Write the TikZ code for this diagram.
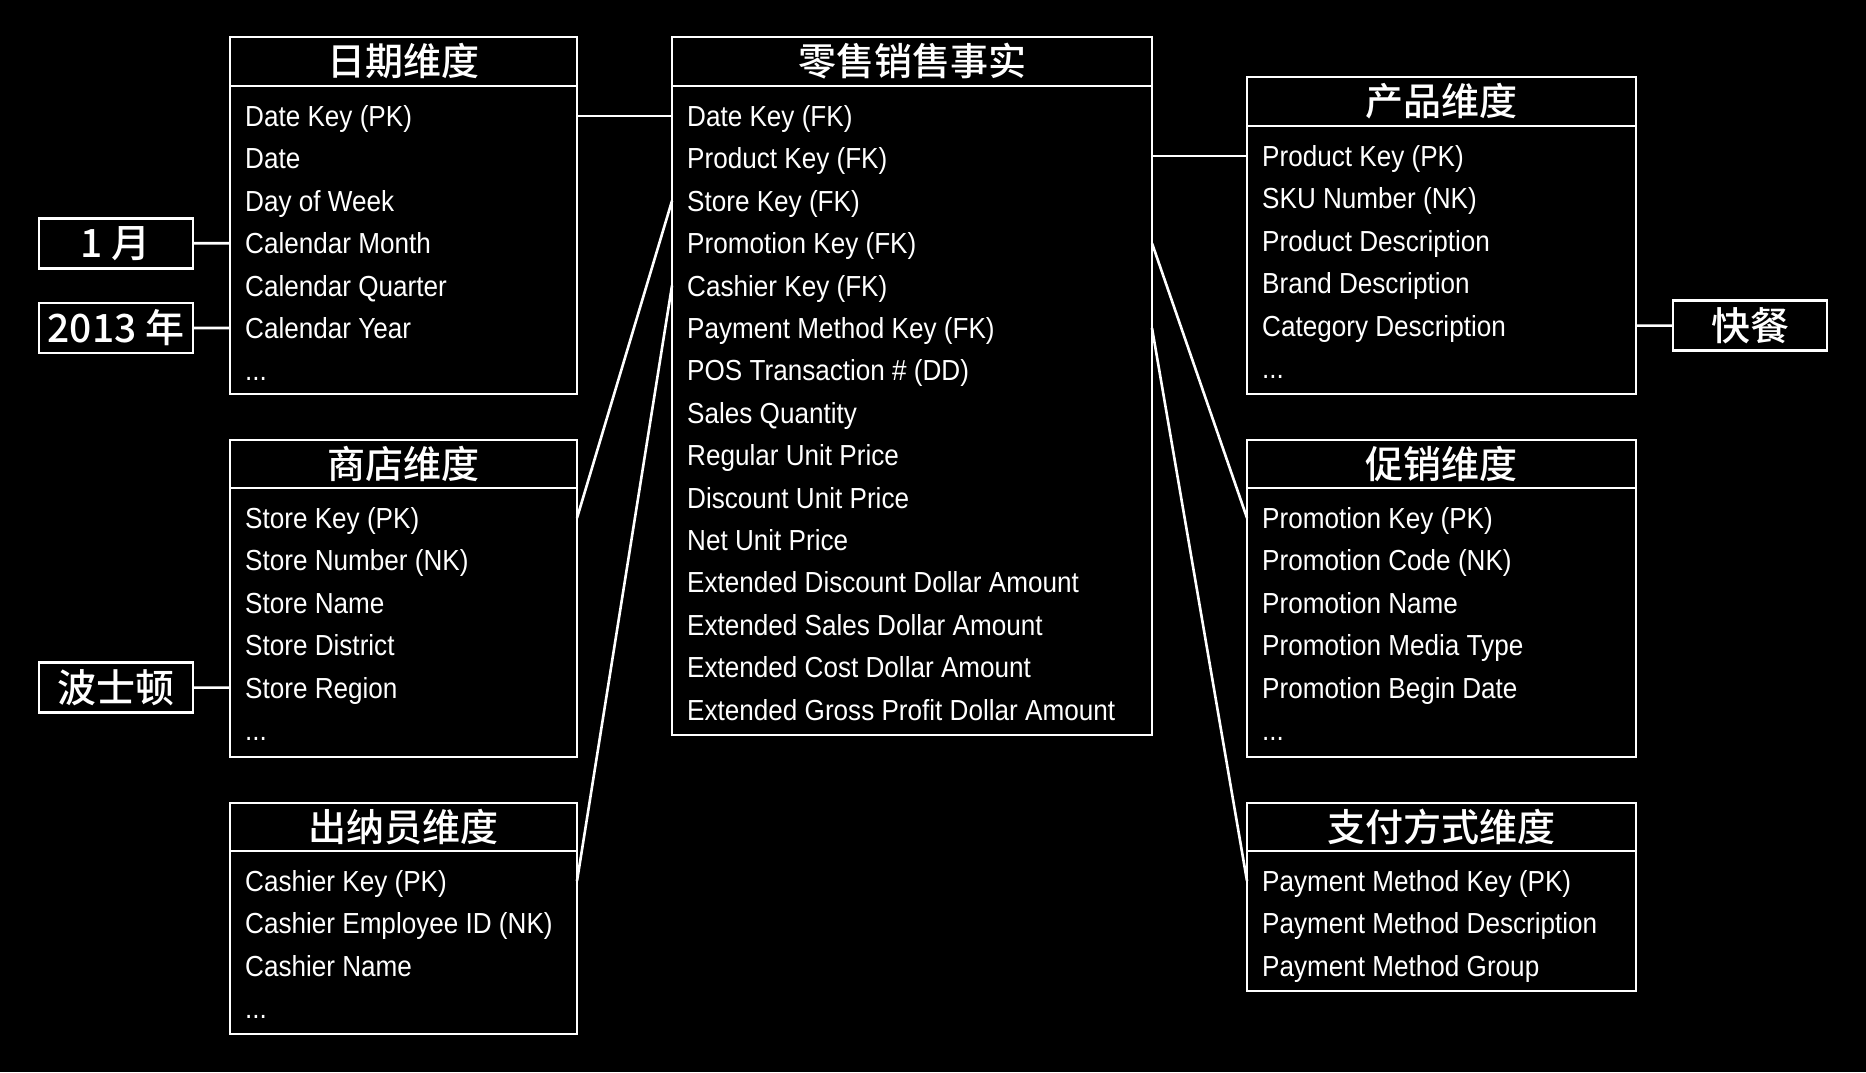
\documentclass[tikz,border=0pt]{standalone}
\usepackage{fontspec}
\newfontfamily\rowfont{Liberation Sans}[FakeStretch=0.9]
\newfontfamily\cjk{Noto Sans CJK SC Medium}
\newcommand\threedots{...}
\newcommand\dimtable[8]{%
  \node[dimbox,minimum width={#4-#2},minimum height={#6-#3}] (#1) at (#2,#3) {};
  \draw[boxline] (#2,#5) -- (#4,#5);
  \node[headtext] (#1-title) at ({(#2+#4)/2},{(#3+#5)/2}) {#7};
  \foreach \t [count=\i] in {#8} {
    \node[rowtext] (#1-\i) at ({#2+15},{#5+30+42.4*(\i-1)}) {\t};
  }%
}
\begin{document}
\begin{tikzpicture}[x=1pt,y=-1pt,
  boxline/.style={draw=white,line width=2.6pt},
  dimbox/.style={boxline,rectangle,anchor=north west,inner sep=0pt,outer sep=0pt},
  rowtext/.style={anchor=west,text=white,inner sep=0pt,text height=25pt,text depth=4pt,font=\rowfont\fontsize{29}{32}\selectfont},
  headtext/.style={text=white,inner sep=0pt,font=\cjk\fontsize{38}{40}\selectfont},
  tagbox/.style={boxline,text=white,minimum width=154pt,minimum height=50pt,inner sep=0pt,outer sep=0pt,font=\cjk\fontsize{39}{41}\selectfont},
  link/.style={draw=white,line width=2.6pt}]
\fill[black] (0,0) rectangle (1866,1072);
\useasboundingbox (0,0) rectangle (1866,1072);

\dimtable{date}{230}{37}{577}{86}{394}{日期维度}{Date Key (PK),Date,Day of Week,Calendar Month,Calendar Quarter,Calendar Year,\threedots}
\dimtable{fact}{672}{37}{1152}{86}{735}{零售销售事实}{Date Key (FK),Product Key (FK),Store Key (FK),Promotion Key (FK),Cashier Key (FK),Payment Method Key (FK),POS Transaction \# (DD),Sales Quantity,Regular Unit Price,Discount Unit Price,Net Unit Price,Extended Discount Dollar Amount,Extended Sales Dollar Amount,Extended Cost Dollar Amount,Extended Gross Profit Dollar Amount}
\dimtable{prod}{1247}{77}{1636}{126}{394}{产品维度}{Product Key (PK),SKU Number (NK),Product Description,Brand Description,Category Description,\threedots}
\dimtable{store}{230}{440}{577}{488}{757}{商店维度}{Store Key (PK),Store Number (NK),Store Name,Store District,Store Region,\threedots}
\dimtable{cash}{230}{803}{577}{851}{1034}{出纳员维度}{Cashier Key (PK),Cashier Employee ID (NK),Cashier Name,\threedots}
\dimtable{promo}{1247}{440}{1636}{488}{757}{促销维度}{Promotion Key (PK),Promotion Code (NK),Promotion Name,Promotion Media Type,Promotion Begin Date,\threedots}
\dimtable{pay}{1247}{803}{1636}{851}{991}{支付方式维度}{Payment Method Key (PK),Payment Method Description,Payment Method Group}

\node[tagbox] (month) at (116,243.2) {1 月};
\node[tagbox] (year) at (116,328) {2013 年};
\node[tagbox] (boston) at (116,687.6) {波士顿};
\node[tagbox] (fastfood) at (1750,325.6) {快餐};

\draw[link] (date.east |- date-1) -- (fact.west |- fact-1);
\draw[link] (store.east |- store-1) -- (fact.west |- fact-3);
\draw[link] (cash.east |- cash-1) -- (fact.west |- fact-5);
\draw[link] (fact.east |- prod-1) -- (prod.west |- prod-1);
\draw[link] (fact.east |- fact-4) -- (promo.west |- promo-1);
\draw[link] (fact.east |- fact-6) -- (pay.west |- pay-1);
\draw[link] (month.east) -- (date.west |- date-4);
\draw[link] (year.east) -- (date.west |- date-6);
\draw[link] (boston.east) -- (store.west |- store-5);
\draw[link] (prod.east |- prod-5) -- (fastfood.west);
\end{tikzpicture}
\end{document}
